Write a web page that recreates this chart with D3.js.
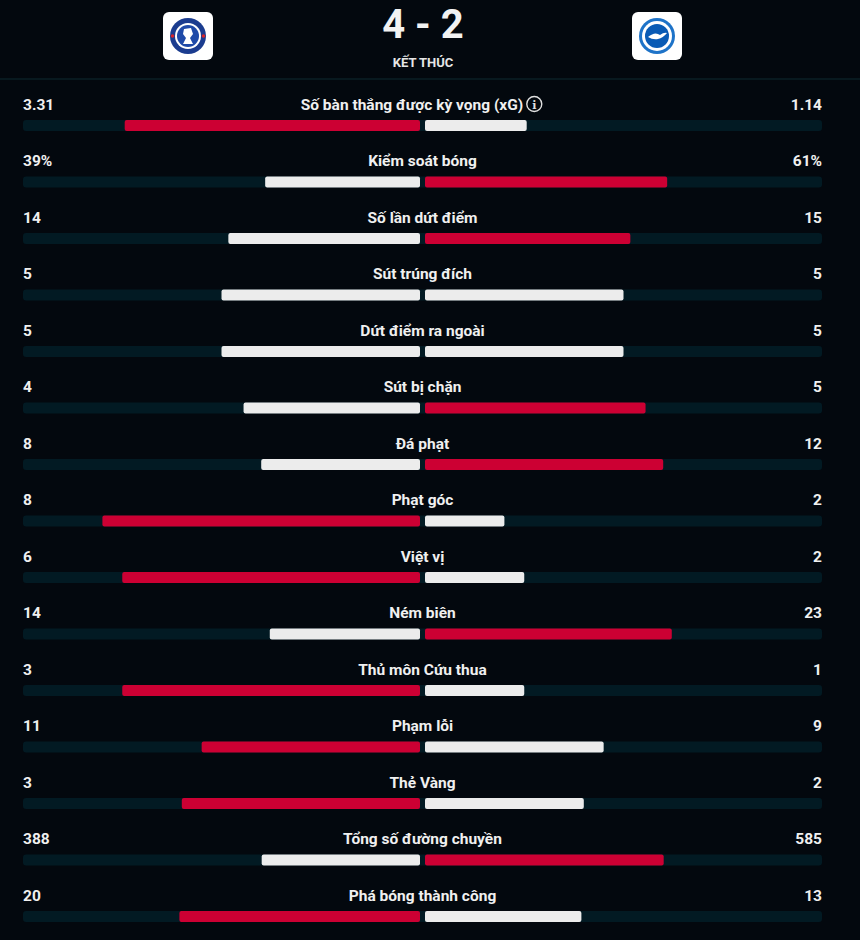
<!DOCTYPE html>
<html>
<head>
<meta charset="utf-8">
<script src="https://cdn.jsdelivr.net/npm/d3@7"></script>
<style>
  html, body { margin: 0; padding: 0; background: #03080e; }
  svg { display: block; }
  text { font-family: Roboto, "Noto Sans", sans-serif; }
</style>
</head>
<body>
<div id="chart"></div>
<script>
// match data
var homeScore = 4, awayScore = 2;
var statusText = "KẾT THÚC";

var statNames = ["Số bàn thắng được kỳ vọng (xG)", "Kiểm soát bóng", "Số lần dứt điểm", "Sút trúng đích",
  "Dứt điểm ra ngoài", "Sút bị chặn", "Đá phạt", "Phạt góc", "Việt vị", "Ném biên",
  "Thủ môn Cứu thua", "Phạm lỗi", "Thẻ Vàng", "Tổng số đường chuyền", "Phá bóng thành công"];
var homeValues = [3.31, 39, 14, 5, 5, 4, 8, 8, 6, 14, 3, 11, 3, 388, 20];
var awayValues = [1.14, 61, 15, 5, 5, 5, 12, 2, 2, 23, 1, 9, 2, 585, 13];
var valueSuffix = ["", "%", "", "", "", "", "", "", "", "", "", "", "", "", ""];

var W = 860, H = 940;

var svg = d3.select("#chart").append("svg")
  .attr("width", W)
  .attr("height", H);

svg.append("rect").attr("width", W).attr("height", H).attr("fill", "#03080e");

//header
svg.append("line")
  .attr("x1", 0).attr("x2", W).attr("y1", 79).attr("y2", 79)
  .attr("stroke", "#0b1f26").attr("stroke-width", 1.5);

svg.append("text")
  .attr("x", 423).attr("y", 38)
  .attr("text-anchor", "middle")
  .attr("fill", "#f2f2f2")
  .style("font-size", "40px").style("font-weight", 700)
  .text(homeScore + " - " + awayScore);

svg.append("text")
  .attr("x", 423).attr("y", 67)
  .attr("text-anchor", "middle")
  .attr("fill", "#e6e6e6")
  .style("font-size", "13px").style("font-weight", 700)
  .text(statusText);

//crests (simple drawn badges)
function badge(cx, kind) {
  var g = svg.append("g").attr("transform", "translate(" + cx + ",36)");
  g.append("rect").attr("x", -25).attr("y", -24).attr("width", 50).attr("height", 48)
    .attr("rx", 6).attr("fill", "#ffffff");
  if (kind == "home") {
    g.append("circle").attr("r", 18).attr("fill", "#1b3c8f");
    g.append("circle").attr("r", 13).attr("fill", "#ffffff");
    g.append("circle").attr("r", 11).attr("fill", "#1f4aa8");
    [-1, 1].forEach(function(s) {
      g.append("circle").attr("cx", s * 15.5).attr("cy", 0).attr("r", 1.8).attr("fill", "#d9252a");
    });
    g.append("path").attr("d", "M-4,-7 L3,-8 L5,-2 L2,2 L5,8 L-5,8 L-2,2 L-5,-2 Z").attr("fill", "#ffffff");
  } else {
    g.append("circle").attr("r", 18).attr("fill", "#1e73c8");
    g.append("circle").attr("r", 15).attr("fill", "#ffffff");
    g.append("circle").attr("r", 12).attr("fill", "#0a5bb5");
    g.append("path").attr("d", "M-9,1 Q-2,-5 3,-1 Q7,-4 10,-3 Q6,2 1,3 Q-4,4 -9,1 Z").attr("fill", "#ffffff");
  }
}
badge(188, "home");
badge(657, "away");

//rows
var left = 23, right = 822, mid = (left + right) / 2, gap = 2.5;
var half = (right - left) / 2 - gap;

var y = d3.scaleLinear().domain([0, statNames.length - 1]).range([104, 895]);

var rows = svg.selectAll("g.row")
  .data(statNames.map(function(n, i) {
    return { name: n, home: homeValues[i], away: awayValues[i], suf: valueSuffix[i], i: i };
  }))
  .enter().append("g").attr("class", "row")
  .attr("transform", function(d) { return "translate(0," + y(d.i) + ")"; });

rows.append("rect")
  .attr("x", left).attr("y", 16).attr("width", right - left).attr("height", 11)
  .attr("rx", 3).attr("fill", "#021a23");

rows.each(function(d) {
  var g = d3.select(this);
  var x = d3.scaleLinear().domain([0, d.home + d.away]).range([0, half]);
  var homeCol = d.home > d.away ? "#cc0033" : "#ececec";
  var awayCol = d.away > d.home ? "#cc0033" : "#ececec";

  g.append("rect")
    .attr("x", mid - gap - x(d.home)).attr("y", 16)
    .attr("width", x(d.home)).attr("height", 11)
    .attr("rx", 2).attr("fill", homeCol);
  g.append("rect")
    .attr("x", mid + gap).attr("y", 16)
    .attr("width", x(d.away)).attr("height", 11)
    .attr("rx", 2).attr("fill", awayCol);

  g.append("text")
    .attr("x", left).attr("y", 5.5)
    .attr("fill", "#f0f0f0")
    .style("font-size", "15.5px").style("font-weight", 700)
    .text(d.home + d.suf);
  g.append("text")
    .attr("x", right).attr("y", 5.5)
    .attr("text-anchor", "end")
    .attr("fill", "#f0f0f0")
    .style("font-size", "15.5px").style("font-weight", 700)
    .text(d.away + d.suf);

  var lbl = g.append("text")
    .attr("x", d.i == 0 ? 412 : mid).attr("y", 5.5)
    .attr("text-anchor", "middle")
    .attr("fill", "#f0f0f0")
    .style("font-size", "15.5px").style("font-weight", 700)
    .text(d.name);

  if (d.i == 0) {
    var bb = lbl.node().getBBox();
    var cx = bb.x + bb.width + 11;
    g.append("circle").attr("cx", cx).attr("cy", 0).attr("r", 7.5)
      .attr("fill", "none").attr("stroke", "#e0e0e0").attr("stroke-width", 1.4);
    g.append("text").attr("x", cx).attr("y", 4.5)
      .attr("text-anchor", "middle").attr("fill", "#e0e0e0")
      .style("font-size", "11px").style("font-weight", 700)
      .style("font-family", "DejaVu Serif, serif")
      .text("i");
  }
});
</script>
</body>
</html>
